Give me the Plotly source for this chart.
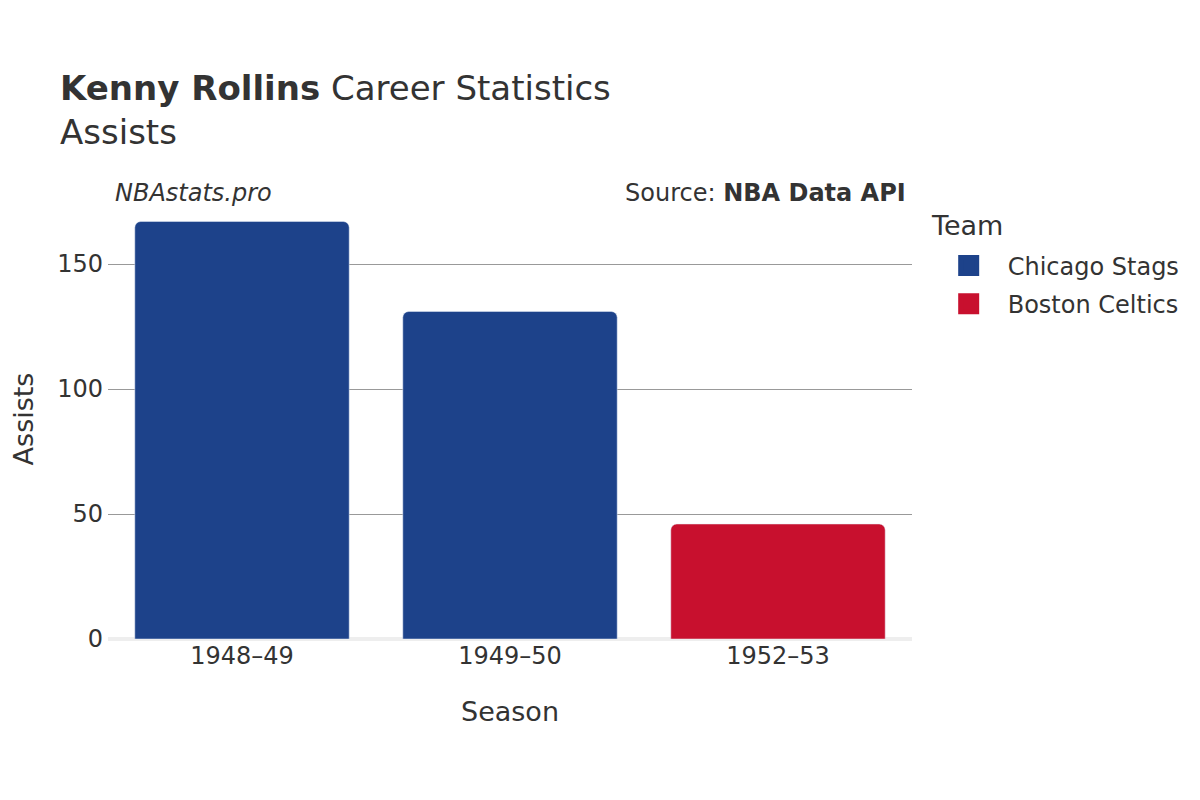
import plotly.graph_objects as go

# datos
temporadas = ["1948–49", "1949–50", "1952–53"]
equipos = ["Chicago Stags", "Chicago Stags", "Boston Celtics"]
asistencias = [167, 131, 46]
colores_equipo = {"Chicago Stags": "#1D428A", "Boston Celtics": "#C8102E"}

fig = go.Figure()
for equipo in ["Chicago Stags", "Boston Celtics"]:
    xs = [t for t, e in zip(temporadas, equipos) if e == equipo]
    ys = [a for a, e in zip(asistencias, equipos) if e == equipo]
    fig.add_trace(go.Bar(x=xs, y=ys, name=equipo, showlegend=False, legendgroup=equipo,
                         marker=dict(color=colores_equipo[equipo])))
    # entrada de leyenda con cuadrado mas grande
    fig.add_trace(go.Scatter(x=[None], y=[None], mode="markers", name=equipo, legendgroup=equipo,
                             marker=dict(symbol="square", size=16, color=colores_equipo[equipo],
                                         line=dict(color=colores_equipo[equipo], width=5))))

fig.update_layout(
    width=1200, height=800,
    font=dict(family="DejaVu Sans", color="#333333", size=20),
    title=dict(text="<b>Kenny Rollins</b> Career Statistics<br>Assists",
               x=52 / 1200, xanchor="left", y=0.885, yanchor="middle",
               font=dict(size=34)),
    plot_bgcolor="white", paper_bgcolor="white",
    barmode="group", bargap=0.2, barcornerradius=6,
    margin=dict(l=100, r=296, t=191, b=169),
    legend=dict(font=dict(size=24), x=1.022, y=0.899, yanchor="top", tracegroupgap=4,
                indentation=0, itemwidth=68),
    xaxis=dict(title=dict(text="Season", font=dict(size=27), standoff=33), categoryorder="array",
               categoryarray=temporadas, tickfont=dict(size=24), automargin=False),
    yaxis=dict(title=dict(text="Assists", font=dict(size=27)), range=[0, 176],
               tickvals=[0, 50, 100, 150], gridcolor="#999999", ticks="",
               ticklabelstandoff=4, tickfont=dict(size=24), automargin=False,
               zeroline=True, zerolinecolor="#eeeeee", zerolinewidth=4),
)
# titulo de la leyenda
fig.add_annotation(text="Team", xref="paper", yref="paper", x=1.0, y=1.0,
                   xanchor="left", yanchor="middle", showarrow=False, font=dict(size=27),
                   xshift=17, yshift=-26)
fig.add_annotation(text="<i>NBAstats.pro</i>", xref="paper", yref="paper", x=0.0, y=1.0,
                   xanchor="left", yanchor="bottom", showarrow=False, font=dict(size=24),
                   xshift=5, yshift=-10)
fig.add_annotation(text="Source: <b>NBA Data API</b>", xref="paper", yref="paper", x=1.0, y=1.0,
                   xanchor="right", yanchor="bottom", showarrow=False, font=dict(size=24),
                   xshift=-4, yshift=-10)

fig.write_html("out.html")
